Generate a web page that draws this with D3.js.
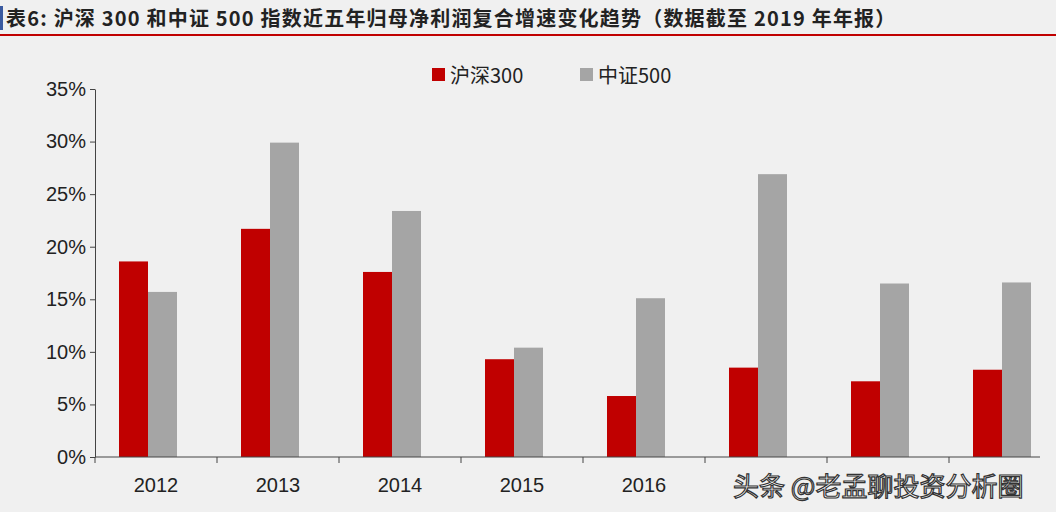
<!DOCTYPE html>
<html><head><meta charset="utf-8">
<script src="https://cdn.jsdelivr.net/npm/d3@7"></script>
<style>body{margin:0;background:#efefef}svg{display:block}</style>
</head><body>
<svg id="c" width="1056" height="512"></svg>
<script>
const years = ['2012', '2013', '2014', '2015', '2016', '2017', '2018', '2019'];
const hs300 = [18.6, 21.7, 17.6, 9.3, 5.8, 8.5, 7.2, 8.3];
const zz500 = [15.7, 29.9, 23.4, 10.4, 15.1, 26.9, 16.5, 16.6];
const yTicks = [0, 5, 10, 15, 20, 25, 30, 35];
const seriesNames = ['沪深300', '中证500'];
const colors = ['#c00000', '#a5a5a5'];
// the watermark covers the last three year labels in the reference
const hiddenLabels = ['2017', '2018', '2019'];

const svg = d3.select('#c');
const font = '"Liberation Sans", Arial, sans-serif';
const cjk = '"Noto Sans CJK SC", sans-serif';

svg.append('rect').attr('width', 1056).attr('height', 512).attr('fill', '#f0f0f0');
// title
svg.append('rect').attr('x', 0).attr('y', 6).attr('width', 3).attr('height', 24).attr('fill', '#3a5aa0');
svg.append('text').attr('x', 6).attr('y', 26).attr('font-family', cjk).attr('font-weight', 'bold')
  .attr('font-size', 20).attr('letter-spacing', 1.2).attr('fill', '#222')
  .text('表6:  沪深 300 和中证 500 指数近五年归母净利润复合增速变化趋势（数据截至 2019 年年报）');
svg.append('line').attr('x1', 0).attr('x2', 1056).attr('y1', 35).attr('y2', 35)
  .attr('stroke', '#c00000').attr('stroke-width', 2);

const x = d3.scaleBand().domain(years).range([95, 1071]);
const xs = d3.scaleBand().domain([0, 1]).range([24, 82]);
const y = d3.scaleLinear().domain([0, 35]).range([457, 89]);

const g = svg.append('g');
years.forEach((yr, i) => {
  [hs300[i], zz500[i]].forEach((v, j) => {
    g.append('rect').attr('x', x(yr) + xs(j)).attr('width', xs.bandwidth())
      .attr('y', y(v)).attr('height', y(0) - y(v)).attr('fill', colors[j]);
  });
});

const yAxis = svg.append('g').attr('transform', 'translate(95,0)')
  .call(d3.axisLeft(y).tickValues(yTicks).tickFormat(d => d + '%').tickSize(5).tickSizeOuter(0));
yAxis.selectAll('text').attr('font-family', font).attr('font-size', 20).attr('fill', '#222').attr('x', -9);
yAxis.selectAll('line,path').attr('stroke', '#444');

const xAxis = svg.append('g').attr('transform', `translate(0,${y(0)})`)
  .call(d3.axisBottom(x).tickSize(0).tickSizeOuter(0)
    .tickFormat(d => hiddenLabels.includes(d) ? '' : d));
xAxis.select('path').attr('d', 'M95,0H1040').attr('stroke', '#444');
xAxis.selectAll('text').attr('font-family', font).attr('font-size', 20).attr('fill', '#222').attr('dy', 32);
years.forEach(yr => {
  svg.append('line').attr('x1', x(yr)).attr('x2', x(yr)).attr('y1', y(0)).attr('y2', y(0) + 6).attr('stroke', '#444');
});

// legend
const leg = svg.append('g').attr('transform', 'translate(432,75)');
seriesNames.forEach((n, j) => {
  const lg = leg.append('g').attr('transform', `translate(${j * 148},0)`);
  lg.append('rect').attr('x', 0).attr('y', -7).attr('width', 13).attr('height', 13).attr('fill', colors[j]);
  lg.append('text').attr('x', 18).attr('y', 8).attr('font-family', cjk).attr('font-size', 20).attr('fill', '#222').text(n);
});

// watermark
svg.append('text').attr('x', 733).attr('y', 496).attr('font-family', cjk).attr('font-size', 26)
  .attr('fill', '#fff').attr('stroke', '#333').attr('stroke-width', 1.2).attr('paint-order', 'fill')
  .text('头条 @老孟聊投资分析圈');
</script>
</body></html>
